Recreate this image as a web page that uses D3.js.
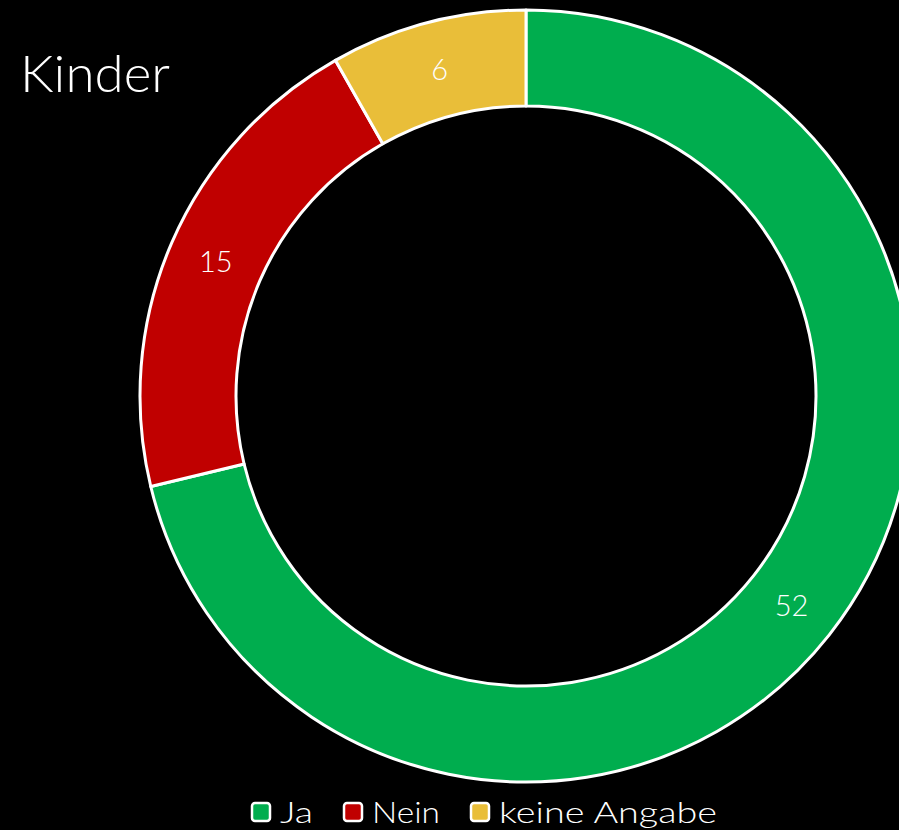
<!DOCTYPE html>
<html>
<head>
<meta charset="utf-8">
<script src="https://cdn.jsdelivr.net/npm/d3@7"></script>
<style>
  html, body { margin: 0; padding: 0; background: #000; }
  text { font-family: "Lato", "Open Sans", sans-serif; font-weight: 300; fill: #fff; }
</style>
</head>
<body>
<div id="chart"></div>
<script>
// chart data
var categories = ["Ja", "Nein", "keine Angabe"];
var values = [52, 15, 6];
var colors = ["#00AD4E", "#C00000", "#E9BE39"];

var width = 899, height = 830;
var cx = 526, cy = 396, outerR = 386, innerR = 290;

// the original font is wider than Lato, so labels get stretched to these widths
var legendX = [252, 344, 471];
var legendTextW = [33, 68, 218];

var svg = d3.select("#chart").append("svg")
  .attr("width", width)
  .attr("height", height);

svg.append("rect").attr("width", width).attr("height", height).attr("fill", "#000");

// title
svg.append("text")
  .attr("x", 20)
  .attr("y", 92)
  .style("font-size", "52px")
  .attr("textLength", 150)
  .attr("lengthAdjust", "spacingAndGlyphs")
  .text("Kinder");

var color = d3.scaleOrdinal().domain(categories).range(colors);

var pie = d3.pie().sort(null).value(function (d) { return d.value; });
var arc = d3.arc().innerRadius(innerR).outerRadius(outerR);

var data = categories.map(function (c, i) { return {name: c, value: values[i]}; });

var g = svg.append("g").attr("transform", "translate(" + cx + "," + cy + ")");

var slices = g.selectAll(".slice")
  .data(pie(data))
  .enter().append("g")
  .attr("class", "slice");

slices.append("path")
  .attr("d", arc)
  .attr("fill", function (d) { return color(d.data.name); })
  .attr("stroke", "#fff")
  .attr("stroke-width", 3)
  .attr("stroke-linejoin", "round");

slices.append("text")
  .attr("transform", function (d) { return "translate(" + arc.centroid(d) + ")"; })
  .attr("dy", ".36em")
  .attr("text-anchor", "middle")
  .style("font-size", "29px")
  .text(function (d) { return d.data.value; });

// legend
var legend = svg.selectAll(".legend")
  .data(data)
  .enter().append("g")
  .attr("class", "legend")
  .attr("transform", function (d, i) { return "translate(" + legendX[i] + ",803)"; });

legend.append("rect")
  .attr("width", 18).attr("height", 18)
  .attr("rx", 3)
  .attr("fill", function (d) { return color(d.name); })
  .attr("stroke", "#fff")
  .attr("stroke-width", 2.5);

legend.append("text")
  .attr("x", 28)
  .attr("y", 20)
  .style("font-size", "30px")
  .attr("textLength", function (d, i) { return legendTextW[i]; })
  .attr("lengthAdjust", "spacingAndGlyphs")
  .text(function (d) { return d.name; });
</script>
</body>
</html>
